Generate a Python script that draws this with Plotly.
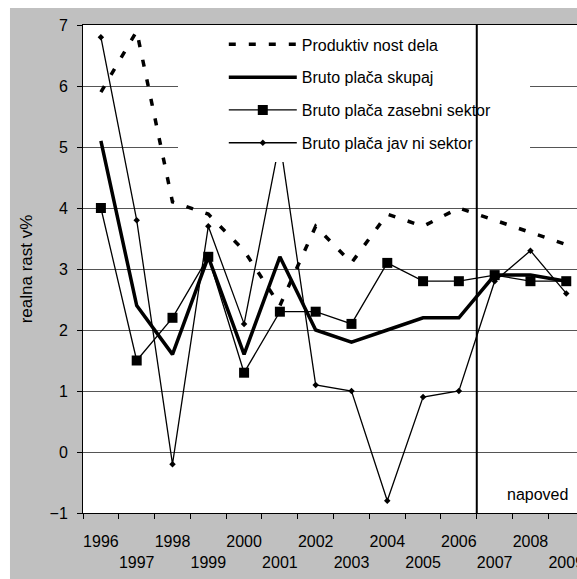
import plotly.graph_objects as go

# Realna rast (v %) po letih
years = ["1996", "1997", "1998", "1999", "2000", "2001", "2002",
         "2003", "2004", "2005", "2006", "2007", "2008", "2009"]
produktivnost = [5.9, 6.9, 4.1, 3.9, 3.3, 2.4, 3.7, 3.1, 3.9, 3.7, 4.0, 3.8, 3.6, 3.4]
skupaj = [5.1, 2.4, 1.6, 3.2, 1.6, 3.2, 2.0, 1.8, 2.0, 2.2, 2.2, 2.9, 2.9, 2.8]
zasebni = [4.0, 1.5, 2.2, 3.2, 1.3, 2.3, 2.3, 2.1, 3.1, 2.8, 2.8, 2.9, 2.8, 2.8]
javni = [6.8, 3.8, -0.2, 3.7, 2.1, 5.1, 1.1, 1.0, -0.8, 0.9, 1.0, 2.8, 3.3, 2.6]

# even years on the first label row, odd years on the second
tick_text = [y if int(y) % 2 == 0 else "<br>" + y for y in years]

FONT = "Liberation Sans, Arial, sans-serif"
GREY = "#c0c0c0"

fig = go.Figure()
fig.add_trace(go.Scatter(
    x=years, y=produktivnost, name="Produktiv nost dela", mode="lines",
    line=dict(color="black", width=3.5, dash="7px,13px"), legendgroup="a"))
fig.add_trace(go.Scatter(
    x=years, y=skupaj, name="Bruto plača skupaj", mode="lines",
    line=dict(color="black", width=3.5), legendgroup="b"))
fig.add_trace(go.Scatter(
    x=years, y=zasebni, name="Bruto plača zasebni sektor", mode="lines+markers",
    line=dict(color="black", width=1.3),
    marker=dict(symbol="square", size=10, color="black"), legendgroup="c"))
fig.add_trace(go.Scatter(
    x=years, y=javni, name="Bruto plača jav ni sektor", mode="lines+markers",
    line=dict(color="black", width=1.3),
    marker=dict(symbol="diamond", size=5, color="black"), legendgroup="d"))

fig.update_layout(
    width=577, height=579,
    margin=dict(l=83, r=0, t=25, b=66, pad=0, autoexpand=False),
    paper_bgcolor=GREY, plot_bgcolor="white",
    font=dict(family=FONT, size=16, color="black"),
    showlegend=True,
    legend=dict(
        x=0.285, y=0.995, xanchor="left", yanchor="top",
        bgcolor="rgba(0,0,0,0)", borderwidth=0,
        font=dict(family=FONT, size=16, color="black"),
        itemwidth=68, tracegroupgap=9, traceorder="grouped",
    ),
    xaxis=dict(
        type="category", range=[-0.5, 13.3], automargin=False,
        tickmode="array", tickvals=years, ticktext=tick_text, tickangle=0,
        tickson="boundaries", ticks="outside", ticklen=5, tickcolor="black",
        ticklabelstandoff=14,
        showline=True, linecolor="black", linewidth=1, mirror=True,
        showgrid=False, tickfont=dict(family=FONT, size=16),
    ),
    yaxis=dict(
        range=[-1, 7], dtick=1, tick0=0, automargin=False,
        ticks="outside", ticklen=5, tickcolor="black", ticklabelstandoff=6,
        showline=True, linecolor="black", linewidth=1,
        showgrid=True, gridcolor="#555555", gridwidth=1, zeroline=False,
        title=dict(text="realna rast v%", font=dict(family=FONT, size=17), standoff=12),
        tickfont=dict(family=FONT, size=16),
    ),
    shapes=[
        # white page margin on the left and top
        dict(type="rect", xref="paper", yref="paper", x0=-0.2, x1=-0.1478,
             y0=-0.2, y1=1.1, fillcolor="white", line=dict(width=0), layer="below"),
        dict(type="rect", xref="paper", yref="paper", x0=-0.2, x1=1.1,
             y0=1.0348, y1=1.1, fillcolor="white", line=dict(width=0), layer="below"),
        # legend backdrop
        dict(type="rect", xref="paper", yref="paper", x0=0.1923, x1=0.9049,
             y0=0.7193, y1=0.998, fillcolor="white", line=dict(width=0), layer="above"),
        # forecast divider between 2006 and 2007
        dict(type="line", xref="x", yref="y", x0=10.5, x1=10.5, y0=-1, y1=7,
             line=dict(color="black", width=2), layer="above"),
    ],
    annotations=[
        dict(text="napoved", x=12.2, y=-0.7, xref="x", yref="y",
             showarrow=False, font=dict(family=FONT, size=16, color="black")),
    ],
)

fig.write_html("out.html")
